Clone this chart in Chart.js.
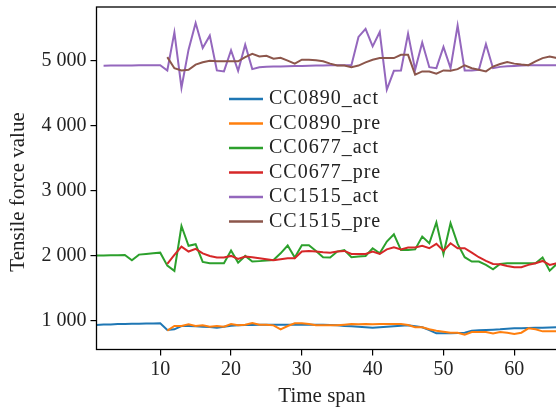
<!DOCTYPE html>
<html>
<head>
<meta charset="utf-8">
<script src="https://cdn.jsdelivr.net/npm/chart.js@4.4.1/dist/chart.umd.min.js"></script>
<style>
html,body{margin:0;padding:0;background:#fff;overflow:hidden;}
canvas{display:block;}
</style>
</head>
<body>
<canvas id="c" width="562" height="409" style="width:562px;height:409px"></canvas>
<script>
const timeSpan = [1,2,3,4,5,6,7,8,9,10,11,12,13,14,15,16,17,18,19,20,21,22,23,24,25,26,27,28,29,30,31,32,33,34,35,36,37,38,39,40,41,42,43,44,45,46,47,48,49,50,51,52,53,54,55,56,57,58,59,60,61,62,63,64,65,66];

const cc0890Act = [940,945,948,952,955,956,958,960,962,964,862,872,923,923,918,913,908,897,913,928,933,938,940,944,944,944,944,944,944,944,944,944,944,940,933,925,920,913,905,897,905,913,920,928,933,918,903,862,810,810,810,815,820,851,856,862,867,872,880,887,890,893,896,898,900,903];
const cc0890Pre = [null,null,null,null,null,null,null,null,null,null,851,923,923,949,923,933,913,923,913,954,933,944,969,944,944,933,872,923,964,964,954,933,933,933,933,944,954,949,954,949,954,954,954,954,938,903,903,872,851,836,820,820,790,831,831,831,810,831,820,800,820,887,872,841,841,841];
const cc0677Act = [2005,2008,2010,2012,2015,1933,2020,2030,2040,2050,1851,1770,2460,2155,2180,1908,1887,1887,1887,2082,1897,2000,1913,1920,1928,1938,2040,2160,1975,2165,2165,2077,1980,1975,2067,2090,1980,1990,2000,2117,2040,2220,2333,2090,2090,2100,2297,2195,2513,2030,2503,2185,1980,1913,1913,1862,1795,1877,1887,1887,1887,1887,1887,1975,1774,1877];
const cc0677Pre = [null,null,null,null,null,null,null,null,null,null,1877,2015,2143,2067,2108,2040,2000,1975,1975,2000,1953,1990,1980,1964,1948,1933,1948,1964,1964,2067,2077,2067,2056,2050,2067,2077,2030,2030,2030,2067,2030,2100,2133,2100,2128,2128,2154,2118,2185,2077,2195,2118,2118,2050,1980,1923,1877,1872,1846,1826,1826,1862,1887,1923,1862,1887];
const cc1515Act = [null,4923,4925,4925,4926,4927,4928,4928,4929,4930,4850,5435,4585,5170,5580,5195,5385,4850,4835,5160,4845,5245,4870,4900,4905,4910,4912,4915,4918,4920,4922,4925,4925,4928,4930,4930,4930,5365,5490,5220,5440,4555,4845,4850,5415,4860,5280,4900,4885,5210,4885,5540,4850,4850,4860,5255,4885,4905,4915,4920,4925,4928,4930,4930,4930,4930];
const cc1515Pre = [null,null,null,null,null,null,null,null,null,null,5055,4885,4850,4860,4940,4975,5000,4990,4990,4990,4990,5055,5105,5065,5075,5030,5045,5000,4955,5015,5015,5005,4990,4955,4925,4925,4900,4925,4975,5015,5040,5040,5040,5090,5090,4785,4835,4835,4800,4850,4845,4870,4930,4885,4860,4835,4910,4950,4980,4955,4940,4930,4990,5040,5065,5040];

const seriesNames = ['CC0890_act','CC0890_pre','CC0677_act','CC0677_pre','CC1515_act','CC1515_pre'];
const seriesColors = ['#1f77b4','#ff7f0e','#2ca02c','#d62728','#9467bd','#8c564b'];
const seriesValues = [cc0890Act, cc0890Pre, cc0677Act, cc0677Pre, cc1515Act, cc1515Pre];

const xTicks = [10,20,30,40,50,60];
const yTicks = [1000,2000,3000,4000,5000];
const yTickLabels = ['1 000','2 000','3 000','4 000','5 000'];
const xTitle = 'Time span';
const yTitle = 'Tensile force value';

const FONT = '"Liberation Serif", "Times New Roman", serif';

const datasets = seriesValues.map((vals, i) => ({
  label: seriesNames[i],
  data: timeSpan.map((t, j) => ({x: t, y: vals[j]})),
  borderColor: seriesColors[i],
  backgroundColor: seriesColors[i],
  borderWidth: 2,
  pointRadius: 0,
  tension: 0,
  fill: false,
  spanGaps: false,
  order: seriesValues.length - i
}));

const decor = {
  id: 'decor',
  afterDatasetsDraw(chart) {
    const a = chart.chartArea, ctx = chart.ctx;
    ctx.save();
    ctx.strokeStyle = '#000';
    ctx.lineWidth = 1.3;
    ctx.strokeRect(a.left, a.top, a.right - a.left, a.bottom - a.top);
    ctx.restore();
  },
  afterDraw(chart) {
    const ctx = chart.ctx;
    ctx.save();
    const x0 = 229, x1 = 263, tx = 269, y0 = 99, dy = 24.5;
    ctx.font = '20px ' + FONT;
    try { ctx.letterSpacing = '1px'; } catch (e) {}
    ctx.textBaseline = 'middle';
    ctx.textAlign = 'left';
    seriesNames.forEach((name, i) => {
      const y = y0 + i * dy;
      ctx.strokeStyle = seriesColors[i];
      ctx.lineWidth = 2.5;
      ctx.beginPath();
      ctx.moveTo(x0, y);
      ctx.lineTo(x1, y);
      ctx.stroke();
      ctx.fillStyle = '#222';
      ctx.fillText(name, tx, y);
    });
    try { ctx.letterSpacing = '0px'; } catch (e) {}
    ctx.fillStyle = '#222';
    ctx.font = '21px ' + FONT;
    ctx.textAlign = 'center';
    ctx.textBaseline = 'middle';
    ctx.fillText(xTitle, 322, 396);
    ctx.translate(18, 192);
    ctx.rotate(-Math.PI / 2);
    ctx.fillText(yTitle, 0, 0);
    ctx.restore();
  }
};

function zeroPad(s) { s.paddingTop = 0; s.paddingBottom = 0; s.paddingLeft = 0; s.paddingRight = 0; }

new Chart(document.getElementById('c'), {
  type: 'line',
  data: { datasets },
  options: {
    responsive: false,
    animation: false,
    layout: { padding: { top: 7, right: 1, left: 0, bottom: 0 } },
    plugins: { legend: { display: false }, tooltip: { enabled: false } },
    scales: {
      x: {
        type: 'linear',
        min: 1,
        max: 66.6,
        afterBuildTicks: s => { s.ticks = xTicks.map(v => ({value: v})); },
        afterFit: s => { s.height = 59.5; zeroPad(s); },
        grid: { display: true, drawOnChartArea: false, drawTicks: true, tickLength: 6, color: '#000', lineWidth: 1.2 },
        border: { display: false },
        ticks: { color: '#222', font: { family: FONT, size: 20 }, padding: 2, maxRotation: 0, autoSkip: false }
      },
      y: {
        type: 'linear',
        min: 562,
        max: 5825,
        afterBuildTicks: s => { s.ticks = yTicks.map(v => ({value: v})); },
        afterFit: s => { s.width = 96.5; zeroPad(s); },
        grid: { display: true, drawOnChartArea: false, drawTicks: true, tickLength: 6, color: '#000', lineWidth: 1.2 },
        border: { display: false },
        ticks: {
          color: '#222', font: { family: FONT, size: 20 }, padding: 4, autoSkip: false,
          callback: v => { const k = yTicks.indexOf(v); return k >= 0 ? yTickLabels[k] : ''; }
        }
      }
    }
  },
  plugins: [decor]
});
</script>
</body>
</html>
